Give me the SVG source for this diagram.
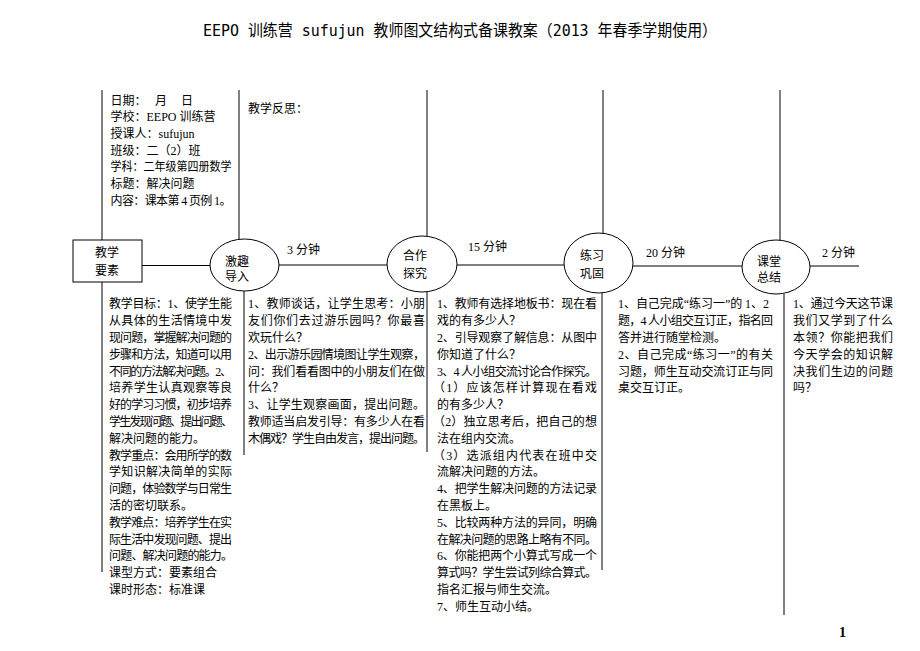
<svg xmlns="http://www.w3.org/2000/svg" width="920" height="651" viewBox="0 0 920 651">
<style>
.t{font-family:'Liberation Serif','Noto Sans CJK SC',serif;font-size:12px;fill:#000}
.ln{stroke:#000;stroke-width:1;fill:none}
.nd{stroke:#000;stroke-width:1;fill:#fff}
.ttl{font-family:'DejaVu Sans Mono','Noto Sans CJK SC',sans-serif;font-size:16px;fill:#000}
.pg{font-family:'Liberation Serif',serif;font-size:14px;font-weight:bold;fill:#000}
</style>
<rect width="920" height="651" fill="#fff"/>
<text class="ttl" x="460" y="36" text-anchor="middle" textLength="514" lengthAdjust="spacingAndGlyphs">EEPO 训练营 sufujun 教师图文结构式备课教案（2013 年春季学期使用）</text>

<g id="dividers">
<line class="ln" x1="102" y1="90" x2="102" y2="240"/>
<line class="ln" x1="239" y1="90" x2="239" y2="240"/>
<line class="ln" x1="427" y1="90" x2="427" y2="236"/>
<line class="ln" x1="603" y1="90" x2="603" y2="233"/>
<line class="ln" x1="780" y1="90" x2="780" y2="240"/>
<line class="ln" x1="102" y1="282" x2="102" y2="572"/>
<line class="ln" x1="244" y1="291" x2="244" y2="455"/>
<line class="ln" x1="427" y1="292" x2="427" y2="452"/>
<line class="ln" x1="602" y1="293" x2="602" y2="570"/>
<line class="ln" x1="784" y1="294" x2="784" y2="615"/>
</g>

<g id="connectors">
<line class="ln" x1="142" y1="265.5" x2="210" y2="265.5"/>
<line class="ln" x1="279" y1="265" x2="387" y2="265"/>
<line class="ln" x1="457" y1="265" x2="564" y2="265"/>
<line class="ln" x1="633" y1="266" x2="742" y2="266"/>
<line class="ln" x1="810" y1="266" x2="859" y2="266"/>
<text class="t" x="287" y="254">3 分钟</text>
<text class="t" x="468" y="251">15 分钟</text>
<text class="t" x="646" y="257">20 分钟</text>
<text class="t" x="822" y="257">2 分钟</text>
</g>

<g id="node-jiaoxueyaosu">
<rect class="nd" x="73" y="240" width="69" height="42"/>
<text class="t" x="107" y="257" text-anchor="middle">教学</text>
<text class="t" x="107" y="275" text-anchor="middle">要素</text>
</g>
<g id="node-jiqudaoru">
<ellipse class="nd" cx="244.5" cy="265" rx="34.5" ry="26"/>
<text class="t" x="225" y="266">激趣</text>
<text class="t" x="225" y="281">导入</text>
</g>
<g id="node-hezuotanjiu">
<ellipse class="nd" cx="422" cy="264" rx="35" ry="28"/>
<text class="t" x="403" y="260">合作</text>
<text class="t" x="403" y="278">探究</text>
</g>
<g id="node-lianxigonggu">
<ellipse class="nd" cx="598.5" cy="263" rx="34.5" ry="30"/>
<text class="t" x="580" y="260">练习</text>
<text class="t" x="580" y="278">巩固</text>
</g>
<g id="node-ketangzongjie">
<ellipse class="nd" cx="776" cy="267" rx="34" ry="27"/>
<text class="t" x="757" y="266">课堂</text>
<text class="t" x="757" y="282">总结</text>
</g>

<g id="info">
<text class="t" x="110.5" y="104.5">日期：</text>
<text class="t" x="155" y="104.5">月</text>
<text class="t" x="181" y="104.5">日</text>
<text class="t" x="110.5" y="121.2">学校：EEPO 训练营</text>
<text class="t" x="110.5" y="137.9">授课人：sufujun</text>
<text class="t" x="110.5" y="154.6">班级：二（2）班</text>
<text class="t" x="110.5" y="171.3" textLength="121" lengthAdjust="spacingAndGlyphs">学科：二年级第四册数学</text>
<text class="t" x="110.5" y="188">标题：解决问题</text>
<text class="t" x="110.5" y="204.7" textLength="121" lengthAdjust="spacing">内容：课本第 4 页例 1。</text>
<text class="t" x="248" y="113">教学反思：</text>
</g>

<g id="col-yaosu">
<text class="t" x="109" y="308.3" textLength="123" lengthAdjust="spacing">教学目标：1、使学生能</text>
<text class="t" x="109" y="325.1" textLength="123" lengthAdjust="spacing">从具体的生活情境中发</text>
<text class="t" x="109" y="341.9" textLength="123" lengthAdjust="spacing">现问题，掌握解决问题的</text>
<text class="t" x="109" y="358.7" textLength="123" lengthAdjust="spacing">步骤和方法，知道可以用</text>
<text class="t" x="109" y="375.5" textLength="123" lengthAdjust="spacing">不同的方法解决问题。2、</text>
<text class="t" x="109" y="392.3" textLength="123" lengthAdjust="spacing">培养学生认真观察等良</text>
<text class="t" x="109" y="409.1" textLength="123" lengthAdjust="spacing">好的学习习惯，初步培养</text>
<text class="t" x="109" y="425.9" textLength="124" lengthAdjust="spacing">学生发现问题、提出问题、</text>
<text class="t" x="109" y="442.7">解决问题的能力。</text>
<text class="t" x="109" y="459.5" textLength="123" lengthAdjust="spacing">教学重点：会用所学的数</text>
<text class="t" x="109" y="476.3" textLength="123" lengthAdjust="spacing">学知识解决简单的实际</text>
<text class="t" x="109" y="493.1" textLength="123" lengthAdjust="spacing">问题，体验数学与日常生</text>
<text class="t" x="109" y="509.9">活的密切联系。</text>
<text class="t" x="109" y="526.7" textLength="123" lengthAdjust="spacing">教学难点：培养学生在实</text>
<text class="t" x="109" y="543.5" textLength="123" lengthAdjust="spacing">际生活中发现问题、提出</text>
<text class="t" x="109" y="560.3" textLength="124" lengthAdjust="spacing">问题、解决问题的能力。</text>
<text class="t" x="109" y="577.1">课型方式：要素组合</text>
<text class="t" x="109" y="593.9">课时形态：标准课</text>
</g>

<g id="col-jiqu">
<text class="t" x="248" y="308.3" textLength="177" lengthAdjust="spacing">1、教师谈话，让学生思考：小朋</text>
<text class="t" x="248" y="325.1" textLength="177" lengthAdjust="spacing">友们你们去过游乐园吗？你最喜</text>
<text class="t" x="248" y="341.9">欢玩什么？</text>
<text class="t" x="248" y="358.7" textLength="177" lengthAdjust="spacing">2、出示游乐园情境图让学生观察，</text>
<text class="t" x="248" y="375.5" textLength="177" lengthAdjust="spacing">问：我们看看图中的小朋友们在做</text>
<text class="t" x="248" y="392.3">什么？</text>
<text class="t" x="248" y="409.1" textLength="177" lengthAdjust="spacing">3、让学生观察画面，提出问题。</text>
<text class="t" x="248" y="425.9" textLength="177" lengthAdjust="spacing">教师适当启发引导：有多少人在看</text>
<text class="t" x="248" y="442.7" textLength="177" lengthAdjust="spacing">木偶戏？学生自由发言，提出问题。</text>
</g>

<g id="col-hezuo">
<text class="t" x="437" y="308.3" textLength="160" lengthAdjust="spacing">1、教师有选择地板书：现在看</text>
<text class="t" x="437" y="325.1">戏的有多少人？</text>
<text class="t" x="437" y="341.9" textLength="160" lengthAdjust="spacing">2、引导观察了解信息：从图中</text>
<text class="t" x="437" y="358.7">你知道了什么？</text>
<text class="t" x="437" y="375.5" textLength="160" lengthAdjust="spacing">3、4 人小组交流讨论合作探究。</text>
<text class="t" x="433" y="392.3" textLength="164" lengthAdjust="spacing">（1）应该怎样计算现在看戏</text>
<text class="t" x="437" y="409.1">的有多少人？</text>
<text class="t" x="433" y="425.9" textLength="164" lengthAdjust="spacing">（2）独立思考后，把自己的想</text>
<text class="t" x="437" y="442.7">法在组内交流。</text>
<text class="t" x="433" y="459.5" textLength="164" lengthAdjust="spacing">（3）选派组内代表在班中交</text>
<text class="t" x="437" y="476.3">流解决问题的方法。</text>
<text class="t" x="437" y="493.1" textLength="160" lengthAdjust="spacing">4、把学生解决问题的方法记录</text>
<text class="t" x="437" y="509.9">在黑板上。</text>
<text class="t" x="437" y="526.7" textLength="160" lengthAdjust="spacing">5、比较两种方法的异同，明确</text>
<text class="t" x="437" y="543.5" textLength="160" lengthAdjust="spacing">在解决问题的思路上略有不同。</text>
<text class="t" x="437" y="560.3" textLength="160" lengthAdjust="spacing">6、你能把两个小算式写成一个</text>
<text class="t" x="437" y="577.1" textLength="160" lengthAdjust="spacing">算式吗？学生尝试列综合算式。</text>
<text class="t" x="437" y="593.9">指名汇报与师生交流。</text>
<text class="t" x="437" y="610.7">7、师生互动小结。</text>
</g>

<g id="col-lianxi">
<text class="t" x="618" y="308.3" textLength="151" lengthAdjust="spacing">1、自己完成“练习一”的 1、2</text>
<text class="t" x="618" y="325.1" textLength="155" lengthAdjust="spacing">题，4 人小组交互订正，指名回</text>
<text class="t" x="618" y="341.9">答并进行随堂检测。</text>
<text class="t" x="618" y="358.7" textLength="155" lengthAdjust="spacing">2、自己完成“练习一”的有关</text>
<text class="t" x="618" y="375.5" textLength="155" lengthAdjust="spacing">习题，师生互动交流订正与同</text>
<text class="t" x="618" y="392.3">桌交互订正。</text>
</g>

<g id="col-zongjie">
<text class="t" x="793" y="308.3" textLength="100" lengthAdjust="spacing">1、通过今天这节课</text>
<text class="t" x="793" y="325.1" textLength="100" lengthAdjust="spacing">我们又学到了什么</text>
<text class="t" x="793" y="341.9" textLength="100" lengthAdjust="spacing">本领？你能把我们</text>
<text class="t" x="793" y="358.7" textLength="100" lengthAdjust="spacing">今天学会的知识解</text>
<text class="t" x="793" y="375.5" textLength="100" lengthAdjust="spacing">决我们生边的问题</text>
<text class="t" x="793" y="392.3">吗？</text>
</g>

<text class="pg" x="839" y="637">1</text>
</svg>
